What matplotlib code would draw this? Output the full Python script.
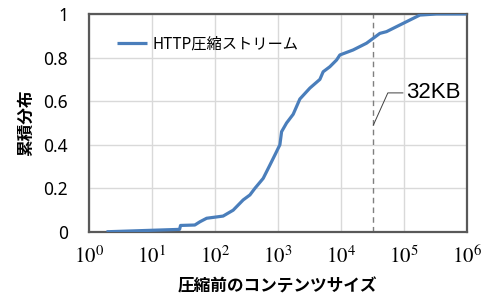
import matplotlib.pyplot as plt
import numpy as np

plt.rcParams['font.family'] = ['Noto Sans CJK JP', 'DejaVu Sans']
plt.rcParams['mathtext.fontset'] = 'stix'

# CDF of uncompressed content size
sizes = [1.9, 27.5, 28.5, 48, 58, 74, 135, 195, 281, 360, 431, 585, 747, 896,
         1076, 1145, 1374, 1750, 2234, 3220, 4645, 5236, 6683, 8550, 9640,
         15660, 25580, 41590, 53090, 97500, 179500, 330000, 990000]
cdf = [0.001, 0.012, 0.03, 0.032, 0.047, 0.063, 0.073, 0.10, 0.147, 0.17, 0.20,
       0.246, 0.307, 0.353, 0.40, 0.46, 0.50, 0.54, 0.61, 0.66, 0.70, 0.735,
       0.758, 0.789, 0.812, 0.835, 0.866, 0.911, 0.919, 0.957, 0.995, 1.0, 1.0]
marker_size = 32768
yticks = [0, 0.2, 0.4, 0.6, 0.8, 1]
ytick_labels = ['0', '0.2', '0.4', '0.6', '0.8', '1']
xticks = [10 ** k for k in range(7)]
xtick_labels = [r'$10^{%d}$' % k for k in range(7)]

fig = plt.figure(figsize=(4.94, 2.95), dpi=100)
ax = fig.add_axes([0.180, 0.2136, 0.765, 0.739])

ax.plot(sizes, cdf, color='#4a7ebb', lw=2.3, label='HTTP圧縮ストリーム',
        solid_capstyle='butt', zorder=3)
ax.axvline(marker_size, color='#7f7f7f', lw=1, dashes=(4, 3), zorder=2)

ax.set_xscale('log')
ax.set_xlim(1, 1e6)
ax.set_ylim(0, 1)
ax.set_xticks(xticks)
ax.set_xticklabels(xtick_labels, fontsize=15)
ax.minorticks_off()
ax.set_yticks(yticks)
ax.set_yticklabels(ytick_labels, fontsize=12.5, family='Noto Sans')
ax.tick_params(axis='y', length=0, pad=15)
ax.tick_params(axis='x', length=0, pad=10)
ax.grid(True, color='#d9d9d9', lw=1)
ax.set_axisbelow(True)
for s in ax.spines.values():
    s.set_color('#595959')
    s.set_linewidth(1.6)

ax.set_xlabel('圧縮前のコンテンツサイズ', fontsize=12, fontweight='bold', labelpad=7)
ax.set_ylabel('累積分布', fontsize=12, fontweight='bold', labelpad=6)

ax.legend(loc='center left', bbox_to_anchor=(0.074, 0.862), frameon=False,
          borderpad=0, borderaxespad=0, handlelength=2.0, handletextpad=0.3,
          prop={'size': 11})

# callout for 32KB
ax.plot([marker_size, 55700, 96400], [0.49, 0.638, 0.638], color='#404040', lw=0.7)
ax.text(108000, 0.638, '32KB', fontsize=16, va='center', ha='left',
        family=['Liberation Sans Narrow', 'Liberation Sans'])

fig.savefig('out.png', dpi=100)
